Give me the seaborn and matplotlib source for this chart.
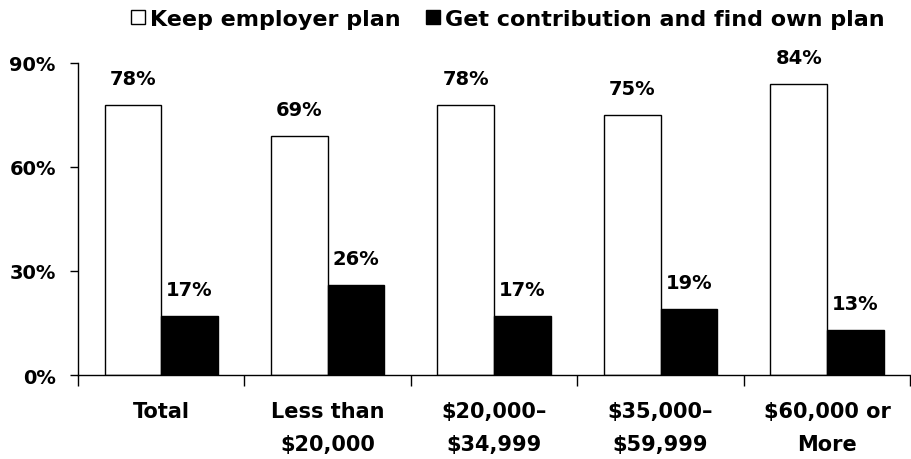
import pandas as pd
import matplotlib.pyplot as plt
import seaborn as sns
from matplotlib.lines import Line2D

# 데이터
categories = ['Total', 'Less than\n$20,000', '$20,000–\n$34,999', '$35,000–\n$59,999', '$60,000 or\nMore']
series = ['Keep employer plan', 'Get contribution and find own plan']
keep_plan = [78, 69, 78, 75, 84]
own_plan = [17, 26, 17, 19, 13]

df = pd.DataFrame({
    'category': categories * 2,
    'series': [series[0]] * 5 + [series[1]] * 5,
    'value': keep_plan + own_plan,
})

sns.set_style('white')
plt.rcParams['font.family'] = ['DejaVu Sans']
plt.rcParams['font.weight'] = 'bold'
plt.rcParams['text.color'] = 'black'
plt.rcParams['xtick.color'] = 'black'
plt.rcParams['ytick.color'] = 'black'

fig = plt.figure(figsize=(9.12, 4.6), dpi=100)
ax = fig.add_axes([0.0855, 0.1826, 0.9125, 0.6784])

sns.barplot(data=df, x='category', y='value', hue='series', order=categories,
            hue_order=series, palette=['white', 'black'], edgecolor='black',
            linewidth=1, width=0.68, gap=0, ax=ax, legend=False)

# 값 표시
for cont in ax.containers:
    for bar in cont:
        h = bar.get_height()
        ax.annotate(f'{h:.0f}%', (bar.get_x() + bar.get_width() / 2, h),
                    xytext=(0, 12), textcoords='offset points',
                    ha='center', va='bottom', fontsize=14, fontweight='bold',
                    color='black', annotation_clip=False)

ax.set_ylim(0, 90)
ax.set_xlim(-0.5, 4.5)
ax.set_yticks([0, 30, 60, 90])
ax.set_yticklabels(['0%', '30%', '60%', '90%'], fontsize=14, fontweight='bold')
ax.tick_params(axis='y', direction='out', length=6, width=1, pad=10, left=True)
ax.tick_params(axis='x', which='major', length=0, pad=19, labelsize=15)
for lbl in ax.get_xticklabels():
    lbl.set_fontweight('bold')
    lbl.set_linespacing(1.8)
    lbl.set_va('top')
ax.set_xticks([i - 0.5 for i in range(6)], minor=True)
ax.tick_params(axis='x', which='minor', direction='out', length=8, width=1, bottom=True)
ax.set_xlabel('')
ax.set_ylabel('')

for side in ['top', 'right']:
    ax.spines[side].set_visible(False)
for side in ['left', 'bottom']:
    ax.spines[side].set_color('black')
    ax.spines[side].set_linewidth(1)

handles = [
    Line2D([], [], marker='s', linestyle='', markersize=10,
           markerfacecolor='white', markeredgecolor='black', markeredgewidth=1),
    Line2D([], [], marker='s', linestyle='', markersize=10,
           markerfacecolor='black', markeredgecolor='black'),
]
fig.legend(handles, series, loc='center', bbox_to_anchor=(0.555, 0.957), ncol=2,
           frameon=False, prop={'size': 16, 'weight': 'bold'},
           handletextpad=0.1, columnspacing=1.0, handlelength=0.9)

fig.savefig('out.png', dpi=100)
